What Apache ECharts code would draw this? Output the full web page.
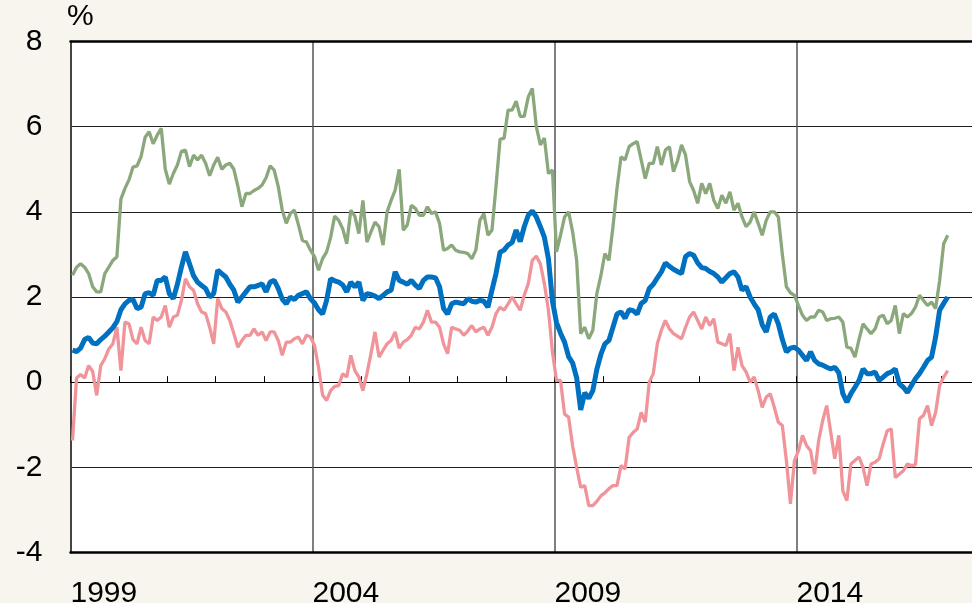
<!DOCTYPE html>
<html><head><meta charset="utf-8">
<script src="https://cdn.jsdelivr.net/npm/echarts@6/dist/echarts.min.js"></script>
<style>html,body{margin:0;padding:0;background:#f8f4ee}#c{width:972px;height:603px}</style>
</head><body><div id="c"></div>
<script>
const startYear = 1999;
const xLabelYears = [1999, 2004, 2009, 2014];
const yMin = -4, yMax = 8, yStep = 2;

// monthly values, Jan 1999 onward (one row per year)
const blue = [
0.75,0.72,0.8,1.0,1.05,0.92,0.9,1.0,1.08,1.18,1.28,1.42,
1.7,1.84,1.92,1.94,1.73,1.76,2.08,2.1,2.04,2.39,2.39,2.47,
2.08,1.96,2.3,2.7,3.06,2.78,2.5,2.35,2.27,2.2,2.0,2.08,
2.63,2.55,2.47,2.3,2.16,1.88,2.0,2.12,2.24,2.24,2.27,2.31,
2.12,2.35,2.39,2.2,1.95,1.84,2.0,1.94,2.04,2.08,2.12,1.96,
1.86,1.7,1.6,1.92,2.43,2.38,2.35,2.28,2.12,2.35,2.24,2.35,
1.92,2.08,2.06,2.02,1.96,2.04,2.12,2.16,2.59,2.39,2.35,2.3,
2.39,2.28,2.2,2.39,2.47,2.47,2.45,2.24,1.73,1.6,1.84,1.88,
1.86,1.84,1.96,1.9,1.88,1.92,1.9,1.76,2.16,2.55,3.05,3.1,
3.22,3.28,3.57,3.3,3.65,3.92,4.02,3.88,3.65,3.4,2.9,1.9,
1.4,1.15,0.94,0.6,0.45,0.1,-0.65,-0.25,-0.38,-0.2,0.3,0.65,
0.9,0.98,1.29,1.6,1.65,1.5,1.7,1.68,1.6,1.85,1.92,2.2,
2.3,2.45,2.59,2.8,2.72,2.65,2.6,2.55,2.95,3.02,2.98,2.8,
2.69,2.67,2.6,2.55,2.47,2.35,2.45,2.55,2.59,2.47,2.16,2.24,
2.0,1.84,1.7,1.35,1.18,1.53,1.6,1.37,1.0,0.71,0.8,0.82,
0.75,0.63,0.51,0.71,0.51,0.43,0.4,0.35,0.31,0.35,0.22,-0.27,
-0.47,-0.27,-0.12,0.04,0.31,0.2,0.2,0.24,0.04,0.12,0.2,0.24,
0.31,-0.04,-0.12,-0.24,-0.08,0.08,0.2,0.35,0.51,0.59,1.06,1.69,
1.85,2.0
];
const green = [
2.51,2.7,2.78,2.7,2.55,2.24,2.12,2.12,2.55,2.7,2.86,2.94,
4.3,4.55,4.75,5.05,5.08,5.3,5.75,5.88,5.6,5.8,5.96,5.0,
4.65,4.9,5.1,5.42,5.45,5.06,5.33,5.22,5.33,5.14,4.85,5.1,
5.28,5.0,5.1,5.14,5.0,4.6,4.12,4.43,4.43,4.5,4.55,4.63,
4.8,5.08,4.98,4.6,4.04,3.73,3.96,4.04,3.7,3.33,3.29,3.1,
2.95,2.63,2.9,3.06,3.4,3.9,3.8,3.6,3.25,4.04,3.9,3.49,
4.27,3.29,3.53,3.76,3.65,3.22,4.0,4.27,4.51,5.0,3.57,3.69,
4.15,4.08,3.92,3.92,4.12,3.96,4.0,3.73,3.1,3.14,3.22,3.1,
3.06,3.05,3.02,2.9,3.1,3.8,3.96,3.45,3.57,4.6,5.7,5.73,
6.39,6.39,6.6,6.24,6.24,6.7,6.9,6.0,5.57,5.73,4.9,4.98,
3.06,3.45,3.88,4.0,3.53,2.86,1.14,1.29,1.02,1.22,2.08,2.5,
3.02,2.86,3.65,4.55,5.29,5.22,5.53,5.6,5.65,5.22,4.78,5.14,
5.14,5.53,5.1,5.45,5.53,4.94,5.2,5.57,5.33,4.71,4.5,4.2,
4.67,4.43,4.67,4.27,4.08,4.39,4.2,4.47,4.04,4.2,3.88,3.65,
3.76,4.0,3.73,3.45,3.8,4.0,4.0,3.88,3.0,2.24,2.1,2.04,
1.8,1.57,1.45,1.53,1.53,1.69,1.65,1.45,1.49,1.5,1.53,1.41,
0.82,0.8,0.59,1.0,1.37,1.25,1.14,1.25,1.53,1.57,1.37,1.45,
1.8,1.14,1.61,1.53,1.61,1.76,2.04,1.92,1.8,1.88,1.73,2.39,
3.25,3.45
];
const pink = [
-1.37,0.1,0.18,0.1,0.39,0.25,-0.31,0.39,0.55,0.78,0.9,1.29,
0.27,1.41,1.37,1.0,0.9,1.29,0.98,0.9,1.53,1.45,1.53,1.8,
1.29,1.53,1.57,1.92,2.43,2.24,2.16,1.84,1.65,1.61,1.29,0.9,
1.96,1.73,1.65,1.45,1.14,0.82,0.98,1.1,1.1,1.25,1.1,1.18,
0.98,1.18,1.18,0.98,0.63,0.94,0.94,1.02,1.06,0.9,1.1,1.06,
0.86,0.35,-0.3,-0.43,-0.2,-0.1,-0.08,0.2,0.12,0.63,0.27,0.12,
-0.2,0.2,0.67,1.18,0.59,0.75,0.9,0.98,1.18,0.8,0.94,1.0,
1.1,1.29,1.25,1.41,1.69,1.41,1.41,1.29,0.9,0.67,1.29,1.25,
1.22,1.1,1.2,1.33,1.18,1.25,1.29,1.1,1.29,1.61,1.76,1.69,
1.84,2.0,1.84,1.69,2.04,2.31,2.86,2.96,2.78,2.31,1.69,0.7,
0.04,0.04,-0.75,-0.82,-1.5,-2.0,-2.47,-2.43,-2.9,-2.9,-2.8,-2.67,
-2.6,-2.5,-2.43,-2.43,-1.96,-2.04,-1.3,-1.18,-1.1,-0.71,-0.94,0.0,
0.2,0.9,1.22,1.45,1.25,1.14,1.08,1.02,1.29,1.53,1.65,1.45,
1.25,1.53,1.33,1.49,0.94,0.9,0.86,1.14,0.27,0.82,0.39,0.24,
0.0,0.12,-0.2,-0.59,-0.35,-0.27,-0.59,-0.94,-1.02,-1.84,-2.86,-1.84,
-1.61,-1.25,-1.49,-1.61,-2.16,-1.37,-0.9,-0.55,-1.18,-1.8,-1.25,-2.55,
-2.78,-1.92,-1.84,-1.76,-2.0,-2.43,-1.92,-1.88,-1.8,-1.45,-1.14,-1.1,
-2.24,-2.16,-2.08,-1.92,-1.96,-1.94,-0.86,-0.78,-0.55,-1.02,-0.71,-0.08,
0.12,0.27
];

// month mid-points as x positions
const months = blue.map((_, i) => startYear + (i + 0.5) / 12);
const pairs = arr => arr.map((v, i) => [months[i], v]);

const FONT = 'Liberation Sans, Arial, sans-serif';
const xMin = 1999, xMax = 2018.04;

const chart = echarts.init(document.getElementById('c'));
chart.setOption({
  backgroundColor: '#f8f4ee',
  animation: false,
  grid: { left: 70.5, top: 41.5, right: -20, bottom: 50.5, outerBoundsMode: 'none', containLabel: false,
          show: true, backgroundColor: '#ffffff', borderWidth: 0 },
  graphic: [{ type: 'text', left: 67, top: 2, style: { text: '%', fontSize: 30, fill: '#000', fontFamily: FONT } }],
  xAxis: [
    { type: 'value', min: xMin, max: xMax, interval: 5, position: 'bottom',
      axisLine: { onZero: false, lineStyle: { color: '#000', width: 2.5 } },
      axisTick: { show: false },
      axisLabel: { align: 'left', fontSize: 30, color: '#000', fontFamily: FONT, margin: 26,
        formatter: v => xLabelYears.indexOf(v) >= 0 ? String(v) : '' },
      splitLine: { show: true, lineStyle: { color: '#555', width: 1.5 } } },
    { type: 'value', min: xMin, max: xMax, interval: 1, position: 'bottom',
      axisLine: { onZero: true, onZeroAxisIndex: 0, lineStyle: { color: '#000', width: 1 } },
      axisTick: { show: true, inside: true, length: 6, lineStyle: { color: '#000', width: 1 } },
      axisLabel: { show: false }, splitLine: { show: false } },
    { type: 'value', min: xMin, max: xMax, position: 'top',
      axisLine: { onZero: false, lineStyle: { color: '#000', width: 2.5 } },
      axisTick: { show: false }, axisLabel: { show: false }, splitLine: { show: false } }
  ],
  yAxis: {
    type: 'value', min: yMin, max: yMax, interval: yStep,
    axisLine: { show: true, onZero: false, lineStyle: { color: '#444', width: 2 } },
    axisTick: { show: false },
    axisLabel: { fontSize: 30, color: '#000', fontFamily: FONT, margin: 28 },
    splitLine: { show: true, lineStyle: { color: '#222', width: 1.2 } }
  },
  series: [
    { type: 'line', data: pairs(green), showSymbol: false, lineStyle: { color: '#8aa87b', width: 3.3 }, z: 2 },
    { type: 'line', data: pairs(pink), showSymbol: false, lineStyle: { color: '#f0949a', width: 3.3 }, z: 3 },
    { type: 'line', data: pairs(blue), showSymbol: false, lineStyle: { color: '#0070c0', width: 5 }, z: 4 }
  ]
});
</script></body></html>
